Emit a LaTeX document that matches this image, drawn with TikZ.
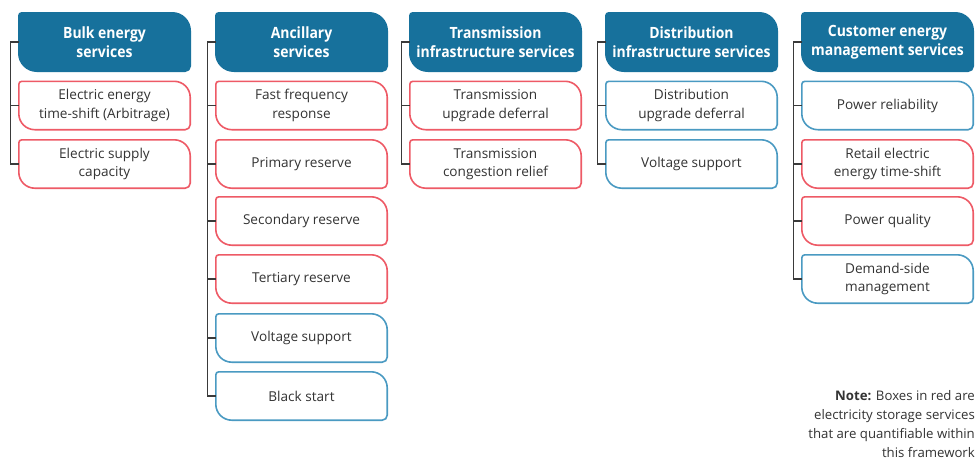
\documentclass[tikz,border=0pt]{standalone}
\usepackage{fontspec}
\setmainfont{Open Sans}
\newfontfamily\hdrfont[FakeStretch=0.9]{Open Sans}
\usetikzlibrary{calc,backgrounds}
\definecolor{hdrblue}{HTML}{17719C}
\definecolor{boxred}{HTML}{EE5A66}
\definecolor{boxblue}{HTML}{4A9AC2}
\definecolor{txt}{HTML}{333333}
\definecolor{spine}{HTML}{3A3A3A}
\newcommand\svcshape[4]{% node, draw colour, fill colour, big radius
  \path[draw=#2,fill=#3,line width=1.6pt]
    ($(#1.north west)+(3,0)$) -- ($(#1.north east)+(-#4,0)$)
    arc[start angle=90,end angle=0,radius=#4]
    -- ($(#1.south east)+(0,5)$)
    arc[start angle=0,end angle=-90,radius=5]
    -- ($(#1.south west)+(#4,0)$)
    arc[start angle=270,end angle=180,radius=#4]
    -- ($(#1.north west)+(0,-3)$)
    arc[start angle=180,end angle=90,radius=3] -- cycle;}
\tikzset{
  x=1pt,y=1pt,
  hdr/.style={minimum width=171,minimum height=58,inner sep=0,
    align=center,text=white,font=\hdrfont\fontsize{15.5}{19.5}\selectfont\bfseries},
  svc/.style={minimum width=171,minimum height=48,inner sep=0,
    align=center,text=txt,font=\fontsize{13.6}{18.5}\selectfont},
  link/.style={draw=spine,line width=1.3pt}
}
\begin{document}
\begin{tikzpicture}
\useasboundingbox (0,0) rectangle (976,-463);
% headers
\node[hdr] (h1) at (104.5,-42) {Bulk energy\\services};
\node[hdr] (h2) at (301.5,-42) {Ancillary\\services};
\node[hdr] (h3) at (495.5,-42) {Transmission\\infrastructure services};
\node[hdr] (h4) at (691.5,-42) {Distribution\\infrastructure services};
\node[hdr] (h5) at (887.5,-42) {Customer energy\\management services};
% column 1
\node[svc] (a1) at (104.5,-105.5) {Electric energy\\time-shift (Arbitrage)};
\node[svc] (a2) at (104.5,-164) {Electric supply\\capacity};
% column 2
\node[svc] (b1) at (301.5,-105.5) {Fast frequency\\response};
\node[svc] (b2) at (301.5,-164) {Primary reserve};
\node[svc] (b3) at (301.5,-221) {Secondary reserve};
\node[svc] (b4) at (301.5,-279) {Tertiary reserve};
\node[svc] (b5) at (301.5,-338) {Voltage support};
\node[svc] (b6) at (301.5,-396) {Black start};
% column 3
\node[svc] (c1) at (495.5,-105.5) {Transmission\\upgrade deferral};
\node[svc] (c2) at (495.5,-164) {Transmission\\congestion relief};
% column 4
\node[svc] (d1) at (691.5,-105.5) {Distribution\\upgrade deferral};
\node[svc] (d2) at (691.5,-164) {Voltage support};
% column 5
\node[svc] (e1) at (887.5,-105.5) {Power reliability};
\node[svc] (e2) at (887.5,-164) {Retail electric\\energy time-shift};
\node[svc] (e3) at (887.5,-221) {Power quality};
\node[svc] (e4) at (887.5,-279) {Demand-side\\management};
% note
\node[anchor=north east,align=right,text=txt,inner sep=0,
  font=\fontsize{13.2}{19}\selectfont] (note) at (975,-390)
  {\textbf{Note:} Boxes in red are\\electricity storage services\\that are quantifiable within\\this framework};
\begin{scope}[on background layer]
  \fill[white] (0,0) rectangle (976,-463);
  \foreach \n in {h1,h2,h3,h4,h5}{\svcshape{\n}{hdrblue}{hdrblue}{18}}
  \foreach \n in {a1,a2,b1,b2,b3,b4,c1,c2,e2,e3}{\svcshape{\n}{boxred}{white}{16}}
  \foreach \n in {b5,b6,d1,d2,e1,e4}{\svcshape{\n}{boxblue}{white}{16}}
\end{scope}
% connectors
\foreach \h/\c in {h1/a1,h1/a2,h2/b1,h2/b2,h2/b3,h2/b4,h2/b5,h2/b6,
                   h3/c1,h3/c2,h4/d1,h4/d2,h5/e1,h5/e2,h5/e3,h5/e4}{
  \draw[link] (\h.west) -- ++(-8,0) |- (\c.west);
}
\end{tikzpicture}
\end{document}
